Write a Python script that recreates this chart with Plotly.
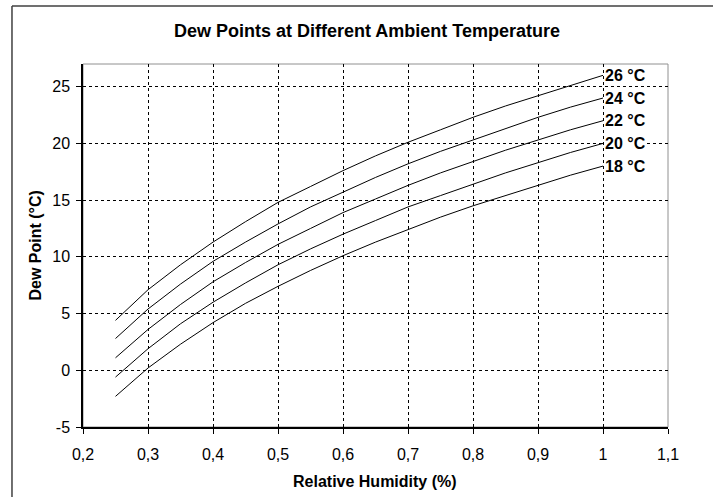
import plotly.graph_objects as go

rh = [0.25, 0.30, 0.35, 0.40, 0.45, 0.50, 0.55, 0.60, 0.65, 0.70, 0.75, 0.80, 0.85, 0.90, 0.95, 1.00]
temps = [26, 24, 22, 20, 18]
dew_26 = [4.4, 7.1, 9.3, 11.3, 13.1, 14.8, 16.2, 17.6, 18.9, 20.1, 21.2, 22.3, 23.3, 24.2, 25.1, 26.0]
dew_24 = [2.8, 5.4, 7.6, 9.6, 11.3, 12.9, 14.4, 15.7, 17.0, 18.2, 19.3, 20.3, 21.3, 22.3, 23.2, 24.0]
dew_22 = [1.1, 3.6, 5.8, 7.8, 9.5, 11.1, 12.5, 13.9, 15.1, 16.3, 17.4, 18.4, 19.4, 20.3, 21.2, 22.0]
dew_20 = [-0.6, 1.9, 4.1, 6.0, 7.7, 9.3, 10.7, 12.0, 13.2, 14.4, 15.4, 16.4, 17.4, 18.3, 19.2, 20.0]
dew_18 = [-2.3, 0.2, 2.3, 4.2, 5.9, 7.4, 8.8, 10.1, 11.3, 12.4, 13.5, 14.5, 15.4, 16.3, 17.2, 18.0]
series = [dew_26, dew_24, dew_22, dew_20, dew_18]
labels = ["26 °C", "24 °C", "22 °C", "20 °C", "18 °C"]

x_tickvals = [0.2, 0.3, 0.4, 0.5, 0.6, 0.7, 0.8, 0.9, 1.0, 1.1]
x_ticktext = ["0,2", "0,3", "0,4", "0,5", "0,6", "0,7", "0,8", "0,9", "1", "1,1"]
y_tickvals = [-5, 0, 5, 10, 15, 20, 25]
y_ticktext = ["-5", "0", "5", "10", "15", "20", "25"]

title_text = "Dew Points at Different Ambient Temperature"
x_title = "Relative Humidity (%)"
y_title = "Dew Point (°C)"

FONT = "Liberation Sans, Arial, sans-serif"

fig = go.Figure()
for name, vals in zip(labels, series):
    fig.add_trace(go.Scatter(x=rh, y=vals, mode="lines", name=name,
                             line=dict(color="black", width=1), showlegend=False))

annotations = []
for name, vals in zip(labels, series):
    annotations.append(dict(x=rh[-1], y=vals[-1], xref="x", yref="y", text=name,
                            showarrow=False, xanchor="left", yanchor="middle", xshift=1,
                            bgcolor="white", borderpad=0,
                            font=dict(family=FONT, size=16, color="black", weight="bold")))

annotations.append(dict(x=0.499, y=-0.1515, xref="paper", yref="paper", text=x_title,
                        showarrow=False, xanchor="center", yanchor="middle",
                        font=dict(family=FONT, size=16, color="black", weight="bold")))
annotations.append(dict(x=-0.082, y=0.5, xref="paper", yref="paper", text=y_title,
                        showarrow=False, xanchor="center", yanchor="middle", textangle=-90,
                        font=dict(family=FONT, size=16, color="black", weight="bold")))

fig.update_layout(
    width=713, height=497,
    margin=dict(l=83, r=45, t=64, b=70),
    paper_bgcolor="white", plot_bgcolor="white",
    title=dict(text=title_text, x=0.4855, xref="paper", xanchor="center",
               y=1 - 31 / 497, yanchor="middle",
               font=dict(family=FONT, size=18, color="black", weight="bold")),
    font=dict(family=FONT, size=16, color="black"),
    annotations=annotations,
    shapes=[
        dict(type="rect", xref="paper", yref="paper", x0=0, x1=1, y0=0, y1=1,
             line=dict(color="#909090", width=1), layer="below"),
        dict(type="line", xref="paper", yref="paper", x0=-0.1214, x1=-0.1214, y0=-0.3, y1=1.1598,
             line=dict(color="#404040", width=1.5)),
        dict(type="line", xref="paper", yref="paper", x0=-0.1214, x1=1.2, y0=1.1598, y1=1.1598,
             line=dict(color="#404040", width=1.5)),
    ],
)

fig.update_xaxes(range=[0.2, 1.1], tickvals=x_tickvals, ticktext=x_ticktext, showgrid=True,
                 gridcolor="black", griddash="3px,3px", gridwidth=1,
                 showline=True, linecolor="black", linewidth=1.5,
                 ticks="outside", ticklen=5, tickcolor="black", ticklabelstandoff=7,
                 zeroline=False, tickfont=dict(family=FONT, size=16, color="black"))
fig.update_yaxes(range=[-5, 27], tickvals=y_tickvals, ticktext=y_ticktext, showgrid=True,
                 gridcolor="black", griddash="3px,3px", gridwidth=1,
                 showline=True, linecolor="black", linewidth=1.5,
                 ticks="outside", ticklen=5, tickcolor="black", ticklabelstandoff=3,
                 zeroline=False, tickfont=dict(family=FONT, size=16, color="black"))

fig.write_html("out.html", config={"displayModeBar": False},
               post_script="document.body.style.margin='0px';document.body.style.padding='0px';")
